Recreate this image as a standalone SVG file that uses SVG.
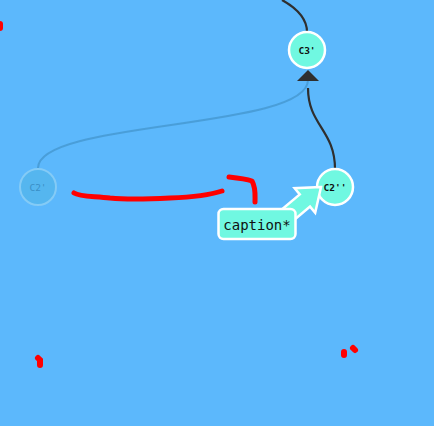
<svg xmlns="http://www.w3.org/2000/svg" width="434" height="426" viewBox="0 0 434 426">
<defs>
<style>
.node circle{fill:#70f8e1;stroke:#fff;stroke-width:2.5}
.node text{font-family:"DejaVu Sans Mono",monospace;font-size:9.5px;font-weight:bold;fill:#111;text-anchor:middle;dominant-baseline:central}
.faded circle{fill:#55b6ef;stroke:#84cbf6;stroke-width:2}
.faded text{fill:#3a8fc6;font-weight:normal}
.edge{fill:none;stroke:#2f2f2f;stroke-width:2.2}
.fedge{fill:none;stroke:#4597cf;stroke-width:2;opacity:0.8}
.scribble{fill:none;stroke:#ff0000;stroke-width:5;stroke-linecap:round;stroke-linejoin:round}
.dot{fill:none;stroke:#ff0000;stroke-width:6;stroke-linecap:round}
</style>
</defs>
<rect width="434" height="426" fill="#5cb8fc"/>
<g id="connectors">
<path class="edge" d="M282,0 C300,10 307,20 307,32"/>
<path class="fedge" d="M38,168 C38,120 308,130 308,80"/>
<path class="edge" d="M335,169 C335,130 308,125 308,88"/>
<path d="M297,81 L308,70 L319,81 Z" fill="#2f2f2f"/>
</g>
<g id="C3" class="node"><circle cx="307" cy="50" r="18"/><text x="307" y="50">C3'</text></g>
<g id="C2p" class="node faded"><circle cx="38" cy="187" r="18"/><text x="38" y="187">C2'</text></g>
<g id="C2pp" class="node"><circle cx="335" cy="187" r="18"/><text x="335" y="187">C2''</text></g>
<g id="caption">
<path d="M0,0 L-21,-16 L-21,-8 L-60,-8 L-60,8 L-21,8 L-21,16 Z" transform="translate(321,187) rotate(-40)" fill="#70f8e1" stroke="#fff" stroke-width="2.5" stroke-linejoin="miter"/>
<rect x="218.5" y="209" width="77" height="30" rx="5" fill="#70f8e1" stroke="#fff" stroke-width="2.5"/>
<text x="257" y="224.5" font-family="DejaVu Sans Mono, monospace" font-size="14" fill="#111" text-anchor="middle" dominant-baseline="central">caption*</text>
</g>
<g id="scribbles">
<path class="scribble" d="M74,193 C80,197 95,196 110,198 C130,200 150,199 170,198 C195,197 210,195 222,191"/>
<path class="scribble" d="M229,177 C238,178 246,179 252,181 C256,188 255,195 255,202"/>
<path class="dot" d="M0,24 L0,28"/>
<path class="dot" d="M38,358 L40,360 L40,365"/>
<path class="dot" d="M344,352 L344,355"/>
<path class="dot" d="M353,348 L355,350"/>
</g>
</svg>
